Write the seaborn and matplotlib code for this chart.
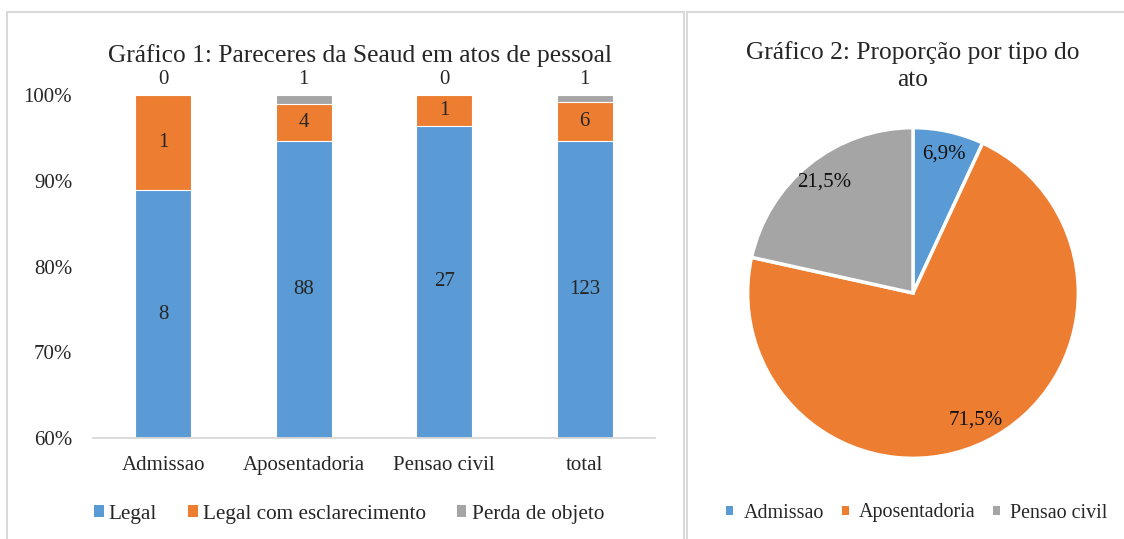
import numpy as np
import pandas as pd
import matplotlib
matplotlib.use("Agg")
import matplotlib.pyplot as plt
import seaborn as sns
from matplotlib.patches import Rectangle, Patch
from matplotlib.ticker import FixedLocator

# Dados do gráfico 1 (contagens por categoria)
categorias = ["Admissao", "Aposentadoria", "Pensao civil", "total"]
legal = [8, 88, 27, 123]
legal_escl = [1, 4, 1, 6]
perda_objeto = [0, 1, 0, 1]
series_nomes = ["Legal", "Legal com esclarecimento", "Perda de objeto"]

# Dados do gráfico 2 (total de atos por tipo)
tipos_ato = ["Admissao", "Aposentadoria", "Pensao civil"]
total_por_tipo = [9, 93, 28]

AZUL = "#5B9BD5"
LARANJA = "#ED7D31"
CINZA = "#A5A5A5"
BORDA = "#D9D9D9"

sns.set_theme(style="white")
plt.rcParams["font.family"] = ["Liberation Serif", "DejaVu Serif"]

W, H = 1124, 539
fig = plt.figure(figsize=(W / 100, H / 100), dpi=100)

# Molduras dos dois painéis
fig.add_artist(Rectangle((7 / W, -0.01), (684 - 7) / W, 1 - 12 / H + 0.01,
                         transform=fig.transFigure, fill=False,
                         edgecolor=BORDA, lw=1.5))
fig.add_artist(Rectangle((687 / W, -0.01), 1.02 - 687 / W, 1 - 12 / H + 0.01,
                         transform=fig.transFigure, fill=False,
                         edgecolor=BORDA, lw=1.5))

# ---------- Gráfico 1: barras empilhadas 100% ----------
df = pd.DataFrame({
    "categoria": categorias,
    "legal": legal,
    "escl": legal_escl,
    "perda": perda_objeto,
})
df["total"] = df["legal"] + df["escl"] + df["perda"]
df["p_legal"] = df["legal"] / df["total"]
df["p_le"] = (df["legal"] + df["escl"]) / df["total"]
df["p_tudo"] = df["total"] / df["total"]

ax1 = fig.add_axes([93 / W, 1 - 438 / H, 562 / W, 343 / H])
for col, cor in [("p_tudo", CINZA), ("p_le", LARANJA), ("p_legal", AZUL)]:
    sns.barplot(data=df, x="categoria", y=col, color=cor, saturation=1,
                width=0.4, edgecolor="white", linewidth=0.8, ax=ax1)

ax1.set_ylim(0.6, 1.0)
ax1.set_xlim(-0.5, len(categorias) - 0.5)
ax1.set_yticks([0.6, 0.7, 0.8, 0.9, 1.0])
ax1.set_yticklabels(["60%", "70%", "80%", "90%", "100%"])
ax1.set_xlabel("")
ax1.set_ylabel("")
ax1.tick_params(axis="y", length=0, pad=15, labelsize=15)
ax1.tick_params(axis="x", which="major", length=0, pad=13, labelsize=15)
ax1.xaxis.set_minor_locator(FixedLocator(np.arange(-0.5, len(categorias), 1.0)))
ax1.tick_params(axis="x", which="minor", length=5, width=1.3, color=BORDA,
                direction="out")
for s in ["top", "right", "left"]:
    ax1.spines[s].set_visible(False)
ax1.spines["bottom"].set_color(BORDA)
ax1.spines["bottom"].set_linewidth(1.3)
ax1.grid(False)

for i, row in df.iterrows():
    ax1.text(i, (0.6 + row["p_legal"]) / 2, str(row["legal"]),
             ha="center", va="center", fontsize=15)
    ax1.text(i, (row["p_legal"] + row["p_le"]) / 2, str(row["escl"]),
             ha="center", va="center", fontsize=15)
    ax1.annotate(str(row["perda"]), (i, row["p_tudo"]), xytext=(0, 4),
                 textcoords="offset points", ha="center", va="bottom",
                 fontsize=15, annotation_clip=False)

fig.text(360 / W, 1 - 56 / H, "Gráfico 1: Pareceres da Seaud em atos de pessoal",
         ha="center", va="center", fontsize=18.4)

fig.legend(handles=[Patch(facecolor=c, edgecolor="none") for c in (AZUL, LARANJA, CINZA)],
           labels=series_nomes, loc="center", bbox_to_anchor=(349 / W, 1 - 514 / H),
           ncol=3, frameon=False, fontsize=15.3, handlelength=0.45, handleheight=0.45,
           handletextpad=0.25, columnspacing=1.45)

# ---------- Gráfico 2: pizza ----------
ax2 = fig.add_axes([746 / W, 1 - 460 / H, 334 / W, 334 / H])
ax2.pie(total_por_tipo, colors=[AZUL, LARANJA, CINZA], startangle=90,
        counterclock=False, pctdistance=0.86,
        autopct=lambda p: f"{p:.1f}%".replace(".", ","),
        wedgeprops=dict(edgecolor="white", linewidth=2.5),
        textprops=dict(fontsize=15, color="#111111"))
ax2.set_xlim(-1.01, 1.01)
ax2.set_ylim(-1.01, 1.01)
ax2.set_aspect("equal")

fig.text(913 / W, 1 - 66 / H, "Gráfico 2: Proporção por tipo do\nato",
         ha="center", va="center", fontsize=18.4, linespacing=1.3)

fig.legend(handles=[Patch(facecolor=c, edgecolor="none") for c in (AZUL, LARANJA, CINZA)],
           labels=tipos_ato, loc="center", bbox_to_anchor=(917 / W, 1 - 513 / H),
           ncol=3, frameon=False, fontsize=14.4, handlelength=0.35, handleheight=0.35,
           handletextpad=0.5, columnspacing=0.9)

fig.savefig("out.png", dpi=100)
